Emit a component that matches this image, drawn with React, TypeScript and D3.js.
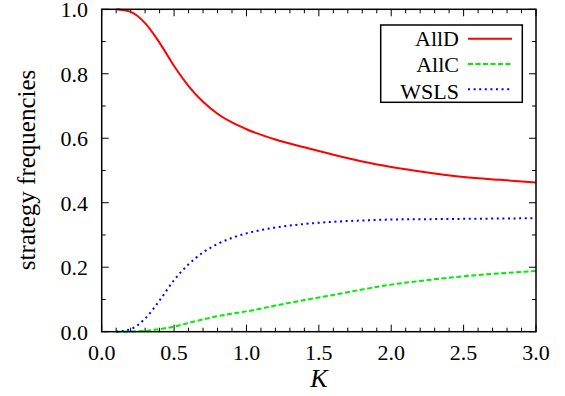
import React from 'react';
import * as d3 from 'd3';

// values
const kValues = [0.1, 0.2, 0.3, 0.4, 0.5, 0.6, 0.7, 0.8, 0.9, 1.0, 1.2, 1.4, 1.6, 1.8, 2.0, 2.25, 2.5, 2.75, 3.0];
const allD = [1.0, 0.992, 0.957, 0.896, 0.824, 0.762, 0.713, 0.676, 0.649, 0.628, 0.596, 0.572, 0.549, 0.528, 0.511, 0.494, 0.480, 0.471, 0.463];
const allC = [0.0, 0.0005, 0.003, 0.008, 0.016, 0.027, 0.038, 0.048, 0.056, 0.063, 0.081, 0.098, 0.114, 0.131, 0.146, 0.160, 0.172, 0.181, 0.188];
const wsls = [0.0, 0.008, 0.041, 0.097, 0.160, 0.209, 0.246, 0.272, 0.291, 0.305, 0.323, 0.334, 0.341, 0.345, 0.348, 0.349, 0.350, 0.351, 0.352];

const xTicks = [0, 0.5, 1.0, 1.5, 2.0, 2.5, 3.0];
const yTicks = [0, 0.2, 0.4, 0.6, 0.8, 1.0];

const series = [
	{ name: 'AllD', values: allD, color: '#ff0000', dash: undefined },
	{ name: 'AllC', values: allC, color: '#00ee00', dash: '5,2.5' },
	{ name: 'WSLS', values: wsls, color: '#0000ff', dash: '2,3.6' },
];

const width = 565;
const height = 396;
const margin = { top: 9.3, right: 29, bottom: 64.3, left: 101.7 };
const FONT = "Tinos, 'Liberation Serif', 'Times New Roman', serif";

const x = d3.scaleLinear().domain([0, 3]).range([margin.left, width - margin.right]);
const y = d3.scaleLinear().domain([0, 1]).range([height - margin.bottom, margin.top]);

const line = d3
	.line()
	.x(d => x(d[0]))
	.y(d => y(d[1]))
	.curve(d3.curveMonotoneX);

const isMajor = (v, step) => Math.abs(v / step - Math.round(v / step)) < 1e-6;

export default function App() {
	const minorX = d3.range(0, 31).map(i => i / 10);
	const minorY = d3.range(0, 11).map(i => i / 10);

	return (
		<div style={{ position: 'absolute', left: 0, top: 0 }}>
			<svg width={width} height={height} style={{ display: 'block' }}>
				{/* ticks on all four sides, pointing inward */}
				{minorX.map(v => {
					const len = isMajor(v, 0.5) ? 7 : 4;
					return (
						<g key={'xt' + v} stroke="black" strokeWidth={1}>
							<line x1={x(v)} x2={x(v)} y1={y(0)} y2={y(0) - len} />
							<line x1={x(v)} x2={x(v)} y1={y(1)} y2={y(1) + len} />
						</g>
					);
				})}
				{minorY.map(v => {
					const len = isMajor(v, 0.2) ? 7 : 4;
					return (
						<g key={'yt' + v} stroke="black" strokeWidth={1}>
							<line x1={x(0)} x2={x(0) + len} y1={y(v)} y2={y(v)} />
							<line x1={x(3)} x2={x(3) - len} y1={y(v)} y2={y(v)} />
						</g>
					);
				})}

				{/* tick labels */}
				{xTicks.map(d => (
					<text key={'xl' + d} x={x(d)} y={360} textAnchor="middle" fontFamily={FONT} fontSize={22}>
						{d.toFixed(1)}
					</text>
				))}
				{yTicks.map(d => (
					<text key={'yl' + d} x={88} y={y(d) + 8} textAnchor="end" fontFamily={FONT} fontSize={22}>
						{d.toFixed(1)}
					</text>
				))}

				{/* axis titles */}
				<text x={(x(0) + x(3)) / 2} y={387} textAnchor="middle" fontFamily={FONT} fontSize={26} fontStyle="italic">
					K
				</text>
				<text transform="translate(35,170) rotate(-90)" textAnchor="middle" fontFamily={FONT} fontSize={25}>
					strategy frequencies
				</text>

				{/* curves */}
				{series.map(s => (
					<path
						key={s.name}
						d={line(kValues.map((k, i) => [k, s.values[i]]))}
						fill="none"
						stroke={s.color}
						strokeWidth={2}
						strokeDasharray={s.dash}
					/>
				))}

				{/* frame */}
				<rect x={x(0)} y={y(1)} width={x(3) - x(0)} height={y(0) - y(1)} fill="none" stroke="black" strokeWidth={1.5} />

				{/* legend */}
				<rect x={380.7} y={25} width={141.6} height={77.3} fill="white" stroke="black" strokeWidth={1.5} />
				{series.map((s, i) => {
					const cy = 38.7 + i * 25.3;
					return (
						<g key={'lg' + s.name}>
							<text x={459} y={45.7 + i * 26.5} textAnchor="end" fontFamily={FONT} fontSize={22}>
								{s.name}
							</text>
							<line x1={468} x2={512} y1={cy} y2={cy} stroke={s.color} strokeWidth={2} strokeDasharray={s.dash} />
						</g>
					);
				})}
			</svg>
		</div>
	);
}
